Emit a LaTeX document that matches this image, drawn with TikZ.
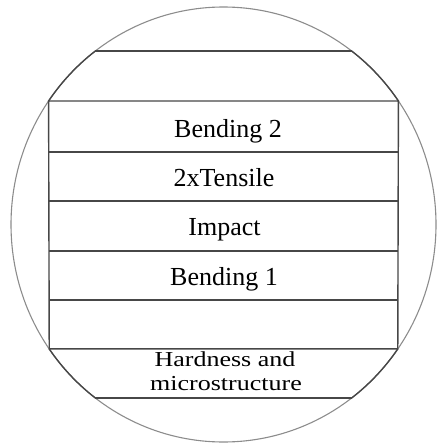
\documentclass[tikz,border=0pt]{standalone}
\usepackage{fontspec}
\setmainfont{Liberation Serif}
\begin{document}
\begin{tikzpicture}[x=1pt,y=-1pt,
  rowline/.style={draw=black!72, line width=1.4pt},
  rim/.style={draw=black!45, line width=1.1pt},
  lbl/.style={font=\fontsize{26}{26}\selectfont, anchor=base, inner sep=0pt},
  squish/.style={font=\fontsize{26}{26}\selectfont, anchor=base, inner sep=0pt}]
\useasboundingbox (0,0) rectangle (436,443);
\coordinate (c) at (223.5,224.5);
\draw[rim] (c) ellipse [x radius=212.5, y radius=217.5];
% corner coordinates on the rim
\coordinate (tl) at ([shift={(c)}]232.9:212.5 and 217.5);
\coordinate (tr) at ([shift={(c)}]307.1:212.5 and 217.5);
\coordinate (rl) at ([shift={(c)}]214.6:212.5 and 217.5);
\coordinate (rr) at ([shift={(c)}]325.4:212.5 and 217.5);
\coordinate (ql) at ([shift={(c)}]145.1:212.5 and 217.5);
\coordinate (qr) at ([shift={(c)}]34.9:212.5 and 217.5);
\coordinate (bl) at ([shift={(c)}]127.1:212.5 and 217.5);
\coordinate (br) at ([shift={(c)}]52.9:212.5 and 217.5);
\draw[rowline] (tl) -- (tr);
\draw[rowline] (rl) arc[start angle=214.6, end angle=232.9, x radius=212.5, y radius=217.5];
\draw[rowline] (tr) arc[start angle=307.1, end angle=325.4, x radius=212.5, y radius=217.5];
\draw[rowline] (rl) -- (rr) -- (qr) -- (ql) -- cycle;
\foreach \y in {152,201,251,300} \draw[rowline] (48.8,\y) -- (398.2,\y);
\draw[rowline] (bl) arc[start angle=127.1, end angle=145.1, x radius=212.5, y radius=217.5];
\draw[rowline] (qr) arc[start angle=34.9, end angle=52.9, x radius=212.5, y radius=217.5];
\draw[rowline] (bl) -- (br);
% labels
\node[lbl] (b2) at (228,137.3) {Bending 2};
\node[lbl] (ten) at (224,186.7) {2xTensile};
\node[lbl] (imp) at (224.5,235.7) {Impact};
\node[lbl] (b1) at (224,285) {Bending 1};
\node[squish] (hard) at (225,366.7) {\scalebox{1}[0.82]{Hardness and}};
\node[squish] (micro) at (226,390) {\scalebox{1}[0.82]{microstructure}};
\end{tikzpicture}
\end{document}
